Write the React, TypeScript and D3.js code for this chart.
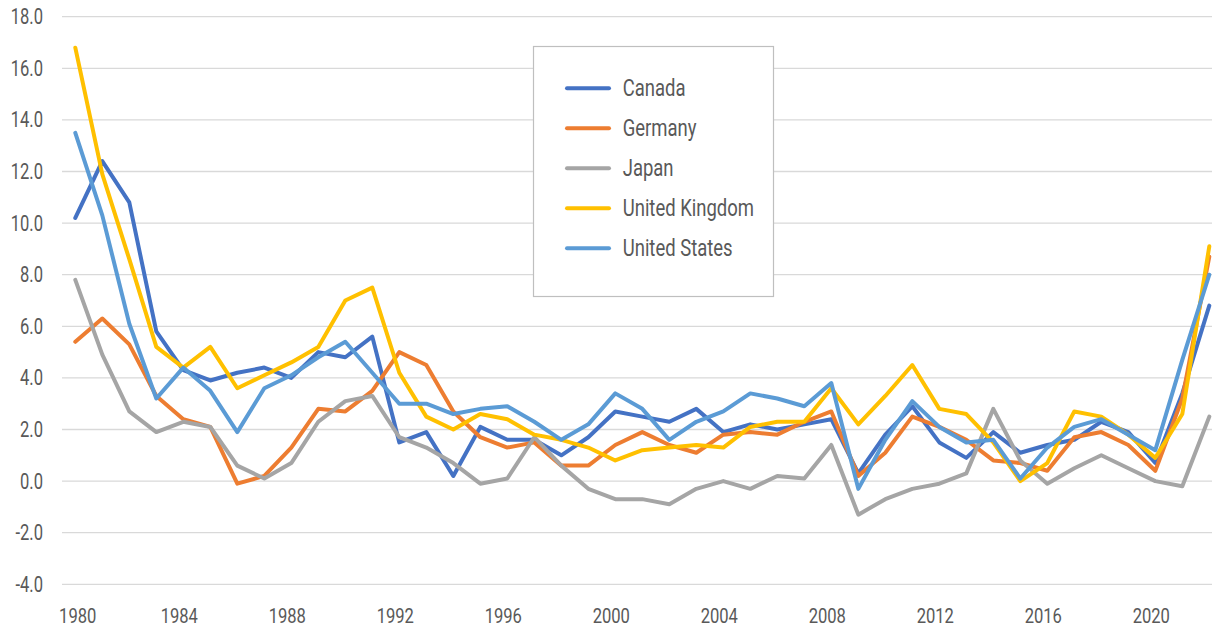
import React from 'react';
import * as d3 from 'd3';

// years 1980..2022
const years = d3.range(1980, 2023);

const canada = [10.2, 12.4, 10.8, 5.8, 4.3, 3.9, 4.2, 4.4, 4.0, 5.0, 4.8, 5.6, 1.5, 1.9, 0.2, 2.1, 1.6, 1.6, 1.0, 1.7, 2.7, 2.5, 2.3, 2.8, 1.9, 2.2, 2.0, 2.2, 2.4, 0.3, 1.8, 2.9, 1.5, 0.9, 1.9, 1.1, 1.4, 1.6, 2.3, 1.9, 0.7, 3.4, 6.8];
const germany = [5.4, 6.3, 5.3, 3.3, 2.4, 2.1, -0.1, 0.2, 1.3, 2.8, 2.7, 3.5, 5.0, 4.5, 2.7, 1.7, 1.3, 1.5, 0.6, 0.6, 1.4, 1.9, 1.4, 1.1, 1.8, 1.9, 1.8, 2.3, 2.7, 0.2, 1.1, 2.5, 2.1, 1.6, 0.8, 0.7, 0.4, 1.7, 1.9, 1.4, 0.4, 3.2, 8.7];
const japan = [7.8, 4.9, 2.7, 1.9, 2.3, 2.1, 0.6, 0.1, 0.7, 2.3, 3.1, 3.3, 1.7, 1.3, 0.7, -0.1, 0.1, 1.7, 0.6, -0.3, -0.7, -0.7, -0.9, -0.3, 0.0, -0.3, 0.2, 0.1, 1.4, -1.3, -0.7, -0.3, -0.1, 0.3, 2.8, 0.8, -0.1, 0.5, 1.0, 0.5, 0.0, -0.2, 2.5];
const unitedKingdom = [16.8, 11.9, 8.6, 5.2, 4.4, 5.2, 3.6, 4.1, 4.6, 5.2, 7.0, 7.5, 4.2, 2.5, 2.0, 2.6, 2.4, 1.8, 1.6, 1.3, 0.8, 1.2, 1.3, 1.4, 1.3, 2.1, 2.3, 2.3, 3.6, 2.2, 3.3, 4.5, 2.8, 2.6, 1.5, 0.0, 0.7, 2.7, 2.5, 1.8, 0.9, 2.6, 9.1];
const unitedStates = [13.5, 10.3, 6.1, 3.2, 4.4, 3.5, 1.9, 3.6, 4.1, 4.8, 5.4, 4.2, 3.0, 3.0, 2.6, 2.8, 2.9, 2.3, 1.6, 2.2, 3.4, 2.8, 1.6, 2.3, 2.7, 3.4, 3.2, 2.9, 3.8, -0.3, 1.6, 3.1, 2.1, 1.5, 1.6, 0.1, 1.3, 2.1, 2.4, 1.8, 1.2, 4.7, 8.0];

const seriesNames = ['Canada', 'Germany', 'Japan', 'United Kingdom', 'United States'];
const seriesValues = [canada, germany, japan, unitedKingdom, unitedStates];
const colors = ['#4472C4', '#ED7D31', '#A5A5A5', '#FFC000', '#5B9BD5'];

const yTicks = d3.range(-4, 18.1, 2);
const xTicks = d3.range(1980, 2021, 4);

const W = 1212;
const H = 629;
const FONT = 'Roboto, "Noto Sans", sans-serif';
const TEXT = '#595959';

// condensed look: Roboto squeezed horizontally
function Label(props: { x: number; y: number; anchor?: string; size: number; sx: number; children: React.ReactNode }) {
  return (
    <g transform={`translate(${props.x},${props.y}) scale(${props.sx},1)`}>
      <text textAnchor={props.anchor || 'start'} dy="0.35em" fontFamily={FONT} fontSize={props.size} fill={TEXT}>
        {props.children}
      </text>
    </g>
  );
}

export default function App() {
  const x = d3.scaleLinear().domain([1980, 2022]).range([75.3, 1209.3]);
  const y = d3.scaleLinear().domain([-4, 18]).range([584.3, 16.7]);

  const line = d3.line<number>()
    .x((d, i) => x(years[i]))
    .y(d => y(d));

  // legend box
  const lg = { x: 533.5, y: 46.5, w: 240, h: 250 };

  return (
    <svg width={W} height={H} style={{ position: 'absolute', left: 0, top: 0, background: '#fff' }}>
      {/* gridlines + y labels */}
      {yTicks.map(t => (
        <g key={t}>
          <line x1={62} x2={W} y1={y(t)} y2={y(t)} stroke="#D9D9D9" strokeWidth={1.3} />
          <Label x={43} y={y(t)} anchor="end" size={21.5} sx={0.77}>{t.toFixed(1)}</Label>
        </g>
      ))}

      {/* x labels */}
      {xTicks.map(t => (
        <Label key={t} x={Math.max(x(t) - 4, 77.7)} y={616} anchor="middle" size={21} sx={0.79}>{t}</Label>
      ))}

      {/* series */}
      {seriesValues.map((vals, i) => (
        <path key={seriesNames[i]} d={line(vals) || ''} fill="none" stroke={colors[i]} strokeWidth={4}
          strokeLinejoin="round" strokeLinecap="round" />
      ))}

      {/* legend */}
      <rect x={lg.x} y={lg.y} width={lg.w} height={lg.h} fill="#fff" stroke="#BFBFBF" strokeWidth={1.2} />
      {seriesNames.map((name, i) => {
        const ry = 88.3 + i * 40;
        return (
          <g key={name}>
            <line x1={567} x2={609} y1={ry} y2={ry} stroke={colors[i]} strokeWidth={4} strokeLinecap="round" />
            <Label x={622.7} y={ry - 0.5} size={24} sx={0.77}>{name}</Label>
          </g>
        );
      })}
    </svg>
  );
}
